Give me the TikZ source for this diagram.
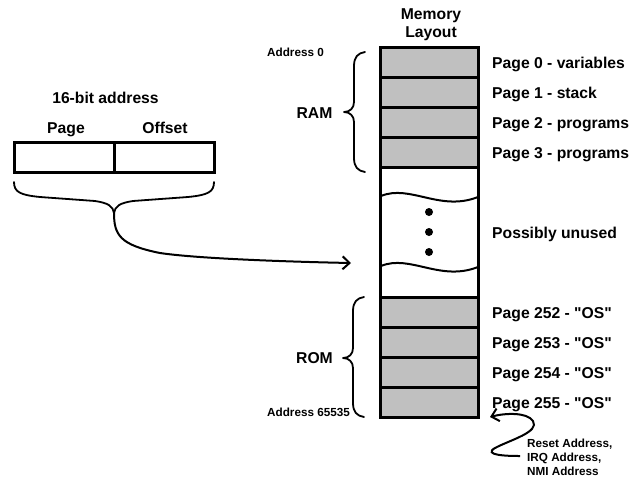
\documentclass[tikz,border=0pt]{standalone}
\usepackage{fontspec}
\setmainfont{Liberation Sans}[Ligatures=TeXOff]
\usetikzlibrary{arrows.meta}
\definecolor{memgray}{HTML}{C0C0C0}
\tikzset{
  cell/.style={rectangle, draw, line width=3pt, fill=memgray, minimum width=98pt,
    minimum height=30pt, inner sep=0pt},
  gapcell/.style={cell, fill=white, minimum height=130pt},
  big/.style={font=\bfseries\fontsize{15.7}{18}\selectfont, inner sep=0pt},
  small/.style={font=\bfseries\fontsize{11.7}{14}\selectfont, inner sep=0pt},
  label/.style={big, anchor=base west},
  bracket/.style={line width=1.8pt, line cap=round, line join=round},
  wave/.style={line width=2pt},
  pointer/.style={line width=2pt, -{Straight Barb[length=7pt,width=13pt,line width=2pt]}}
}
\begin{document}
\begin{tikzpicture}[x=1pt, y=-1pt]
\useasboundingbox (0,0) rectangle (631,477);

% memory column
\node[gapcell] (gap) at (429.5,232.5) {};
\node[cell] (p0) at (429.5,62.5) {};
\node[cell] (p1) at (429.5,92.5) {};
\node[cell] (p2) at (429.5,122.5) {};
\node[cell] (p3) at (429.5,152.5) {};
\node[cell] (p252) at (429.5,312.5) {};
\node[cell] (p253) at (429.5,342.5) {};
\node[cell] (p254) at (429.5,372.5) {};
\node[cell] (p255) at (429.5,402.5) {};

% torn edges and dots in the unused region
\draw[wave] (381,196) .. controls (410,184) and (440,212) .. (478,197);
\draw[wave] (381,266) .. controls (410,254) and (440,282) .. (478,267);
\foreach \y in {212,232,252} \fill (429,\y) circle (4pt);

% column heading
\node[big, anchor=base] (hd1) at (431,19) {Memory};
\node[big, anchor=base] (hd2) at (431,37) {Layout};

% page labels
\node[label] (l0) at (492,68.5) {Page 0 - variables};
\node[label] (l1) at (492,98.5) {Page 1 - stack};
\node[label] (l2) at (492,128.5) {Page 2 - programs};
\node[label] (l3) at (492,158.5) {Page 3 - programs};
\node[label] (lu) at (492,238.5) {Possibly unused};
\node[label] (l252) at (492,318.5) {Page 252 - "OS"};
\node[label] (l253) at (492,348.5) {Page 253 - "OS"};
\node[label] (l254) at (492,378.5) {Page 254 - "OS"};
\node[label] (l255) at (492,408.5) {Page 255 - "OS"};

% address markers
\node[small, anchor=base west] (a0) at (267,56) {Address 0};
\node[small, anchor=base west] (a1) at (267,416) {Address 65535};

% RAM / ROM braces
\draw[bracket] (365,52) .. controls (358,53) and (354,57) .. (354,66) -- (354,102)
  .. controls (354,108) and (350,112) .. (344,112)
  .. controls (350,112) and (354,116) .. (354,122) -- (354,158)
  .. controls (354,167) and (358,171) .. (365,172);
\draw[bracket] (364,297) .. controls (357,298) and (353,302) .. (353,311) -- (353,348)
  .. controls (353,354) and (349,358) .. (343,358)
  .. controls (349,358) and (353,362) .. (353,368) -- (353,403)
  .. controls (353,412) and (357,416) .. (364,417);
\node[big, anchor=base] (ram) at (314.5,118) {RAM};
\node[big, anchor=base] (rom) at (314.5,363) {ROM};

% 16-bit address register
\node[big, anchor=base] (title) at (105.5,103) {16-bit address};
\node[big, anchor=base] (pg) at (66,133) {Page};
\node[big, anchor=base] (off) at (165,133) {Offset};
\node[rectangle, draw, line width=3pt, minimum width=100pt, minimum height=30pt, inner sep=0pt] (rpage) at (64,157) {};
\node[rectangle, draw, line width=3pt, minimum width=100pt, minimum height=30pt, inner sep=0pt] (roff) at (164,157) {};

% brace under the register and the pointer into memory
\coordinate (btip) at (114,213);
\coordinate (aend) at (351,263);
\draw[bracket] (14,182) .. controls (14,192) and (20,195) .. (40,197) -- (95,201)
  .. controls (108,203) and (113,206) .. (btip)
  .. controls (115,206) and (120,203) .. (133,201) -- (188,197)
  .. controls (208,195) and (214,192) .. (214,182);
\draw[pointer] (btip) .. controls (114,235) and (120,245) .. (160,253)
  .. controls (200,259) and (300,262) .. (aend);

% vector addresses note
\node[small, anchor=base west] (v1) at (527,447) {Reset Address,};
\node[small, anchor=base west] (v2) at (527,461) {IRQ Address,};
\node[small, anchor=base west] (v3) at (527,475) {NMI Address};
\coordinate (vtail) at (520,456);
\coordinate (vtip) at (490,417);
\draw[pointer] (vtail) .. controls (505,456) and (483,455) .. (495,448)
  .. controls (510,440) and (540,432) .. (533,421)
  .. controls (527,412) and (505,413) .. (vtip);
\end{tikzpicture}
\end{document}
